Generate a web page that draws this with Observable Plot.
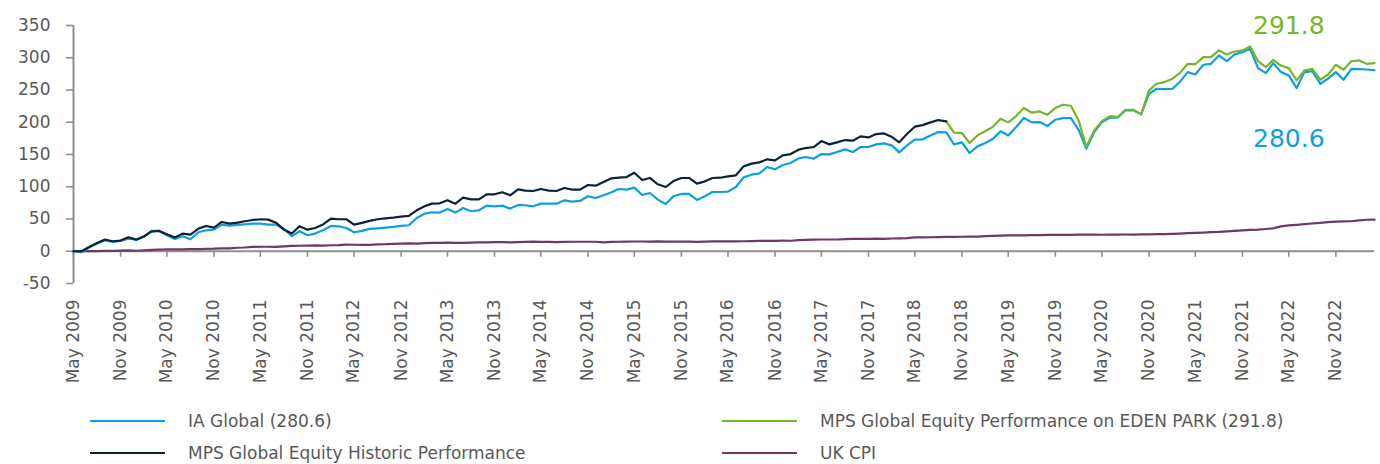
<!DOCTYPE html>
<html><head><meta charset="utf-8">
<script src="https://cdn.jsdelivr.net/npm/d3@7"></script>
<script src="https://cdn.jsdelivr.net/npm/@observablehq/plot@0.6"></script>
<style>
body{margin:0;background:#fff;font-family:"DejaVu Sans",sans-serif;}
#chart svg{display:block;}
#legend{position:relative;height:64px;width:1380px;}
.item{position:absolute;display:flex;align-items:center;height:20px;font-size:17px;color:#595959;white-space:nowrap;}
.sw{width:75px;height:0;border-top:2.5px solid;margin-right:23px;}
</style></head><body>
<div id="chart"></div>
<div id="legend"></div>
<script>
const firstMonth = "May 2009";
const tickLabels = ["May 2009","Nov 2009","May 2010","Nov 2010","May 2011","Nov 2011","May 2012","Nov 2012",
  "May 2013","Nov 2013","May 2014","Nov 2014","May 2015","Nov 2015","May 2016","Nov 2016","May 2017","Nov 2017",
  "May 2018","Nov 2018","May 2019","Nov 2019","May 2020","Nov 2020","May 2021","Nov 2021","May 2022","Nov 2022"];
const yTicks = [-50, 0, 50, 100, 150, 200, 250, 300, 350];

const seriesNames = ["IA Global (280.6)", "MPS Global Equity Historic Performance",
  "MPS Global Equity Performance on EDEN PARK (291.8)", "UK CPI"];
const seriesColors = ["#0aa0e2", "#0d2236", "#78b42c", "#6b3a67"];

// month index 0 = May 2009
const iaGlobal = [0,-1.5,5.7,11.9,17,14.5,16,19.6,18,22.7,31.5,31.5,24.8,19,23.2,18.6,29.4,32.5,33.6,41.3,
  39.8,40.8,41.8,42.9,42.9,41.3,41.3,34.6,23.2,31,24.8,27.4,32.5,39.2,38.7,36.1,29.4,31.5,34.6,35.6,
  36.6,37.7,39.2,40.3,51.6,58.3,60.4,59.9,65.6,59.9,67.1,62,63.5,70.7,69.7,70.7,66.1,71.8,71.3,69.7,
  73.8,73.8,73.8,79,77,78,85.2,82.6,86.7,91.4,96.5,95.5,98.6,87.2,90.3,80,73.3,85.2,88.8,88.8,
  79.5,85.2,91.9,91.9,92.4,99.6,114.6,118.7,120.8,130.6,127,133.7,136.8,144,146.1,143.5,150.7,150.2,153.8,158,
  153.8,161.6,161.6,165.7,167.3,163.7,153.3,164.2,173,173.5,179.6,184.8,184.3,165.7,168.8,152.3,162.6,167.8,174,185.9,
  179.6,192.6,206.5,199.8,200.3,194.1,203.9,206.5,206.5,187.4,159,184.8,200.3,207,207,218.4,218.4,212.2,244.2,251.9,
  251.4,251.9,262.3,277.7,274.1,289.1,290.6,303.5,294.8,305.1,308.7,313.9,283.9,276.2,291.7,277.7,272.6,253,277.7,279.2,
  259.7,267.5,277.7,265.9,282.9,282.3,281.8,280.6];

// month index 0..112
const mpsHistoric = [0,0,6.7,12.9,18,15.5,16.5,21.7,18,23.2,30.5,31.5,26.3,21.2,27.3,25.8,35.1,39.2,36.6,45.4,
  42.8,44.3,46.5,48.5,49.6,49,44.3,33.6,27.5,38.7,33.5,36.1,41.6,50.6,49.6,49.6,41.3,43.9,47,49.6,
  51.1,52.1,53.7,54.8,63.5,69.7,73.8,74.3,79,73.8,83.1,80.5,80.5,88.3,88.3,91.4,86.7,96,94,93.4,
  96.5,94,93.4,98,95.5,95.5,102.7,101.6,107.4,113,114,115,121.8,110.5,113.6,103.8,99.6,108.9,113.6,113.6,
  104.8,108.4,113.6,114,116,117.7,131.6,135.8,137.8,142.5,141,148.7,150.7,157.5,160,161.6,170.9,165.7,168.8,172.4,
  171.4,178.1,176.5,181.7,182.7,177,168.8,182.2,193.1,195.6,199.8,203.4,201.3];

// month index 112..167
const mpsEdenParkStart = 112;
const mpsEdenPark = [201.3,183.8,183.3,167.8,179.6,186.4,192.6,205.4,199.8,209.6,222,214.8,216.8,211.7,222,227.1,225.6,201.8,161.6,187.4,
  201.8,209.6,208,219.4,219.4,212.2,249.3,259.7,262.3,267.5,276.2,290.6,290,301,301,311.3,305.1,309.7,311.3,317.5,
  294.8,285.5,296.8,287.6,283.9,264.8,280.3,282.8,265.9,273.6,289.1,281.4,294.8,295.8,290.6,291.8];

const ukCpi = [0,0.2,0.1,0.3,0.5,0.6,0.9,1.4, 0.8,1.5,2.0,2.6,
  2.8,3.0,2.8,3.2,3.4,3.7,4.0,4.6, 4.6,5.4,5.8,6.8,
  7.0,7.0,6.9,7.6,8.3,8.5,8.7,9.1, 8.6,9.3,9.6,10.3,
  10.1,9.9,10.0,10.6,10.9,11.5,11.8,12.3, 11.8,12.6,13.0,13.1,
  13.3,13.1,13.0,13.5,13.7,13.8,14.0,14.3, 13.7,14.3,14.5,14.9,
  14.6,14.6,14.2,14.6,14.7,14.7,14.7,14.7, 13.9,14.4,14.7,14.9,
  15.1,15.1,14.8,15.2,14.8,14.9,14.9,15.0, 14.4,14.8,15.2,15.3,
  15.5,15.4,15.5,15.8,16.0,16.0,16.1,16.6, 16.3,17.1,17.5,17.9,
  18.2,18.2,18.2,18.8,19.3,19.2,19.3,19.7, 19.2,19.8,20.1,20.4,
  21.5,21.6,21.7,22.0,22.2,22.4,22.5,22.7, 22.8,23.3,23.7,24.2,
  24.5,24.6,24.7,25.0,25.1,25.3,25.3,25.5, 25.3,25.8,26.0,25.8,
  25.6,25.7,25.9,26.0,25.9,26.1,26.2,26.4, 26.7,27.0,27.4,28.0,
  28.5,29.0,29.5,30.0,30.8,31.5,32.3,33.0, 33.5,34.5,35.5,38.5,
  40.0,41.0,42.0,43.0,44.0,45.2,45.8,46.3, 46.5,48.0,48.8,49.0];

const endLabels = [
  {text: "291.8", month: "May 2022", value: 350, color: seriesColors[2]},
  {text: "280.6", month: "May 2022", value: 173.5, color: seriesColors[0]}
];

const parseMonth = d3.utcParse("%b %Y");
const start = parseMonth(firstMonth);
const monthAt = i => d3.utcMonth.offset(start, i);

const rows = [];
ukCpi.forEach((v, i) => rows.push({date: monthAt(i), value: v, series: seriesNames[3]}));
iaGlobal.forEach((v, i) => rows.push({date: monthAt(i), value: v, series: seriesNames[0]}));
mpsEdenPark.forEach((v, i) => rows.push({date: monthAt(mpsEdenParkStart + i), value: v, series: seriesNames[2]}));
mpsHistoric.forEach((v, i) => rows.push({date: monthAt(i), value: v, series: seriesNames[1]}));

const tickDates = tickLabels.map(parseMonth);
const lastDate = monthAt(iaGlobal.length - 1);
const axisGray = "#8e8e8e";

const chart = Plot.plot({
  width: 1380, height: 400,
  marginLeft: 73, marginRight: 6, marginTop: 25, marginBottom: 117,
  style: {fontFamily: "DejaVu Sans", fontSize: "17px", color: "#595959", background: "white", overflow: "visible"},
  x: {type: "utc", domain: [start, lastDate]},
  y: {domain: [-50, 350]},
  color: {domain: seriesNames, range: seriesColors},
  marks: [
    Plot.ruleY([0], {stroke: axisGray, strokeWidth: 2}),
    Plot.ruleX(tickDates, {x: d => d, y1: 0, y2: 0, insetBottom: -6, stroke: axisGray, strokeWidth: 1.6}),
    Plot.ruleX([start], {y1: -50, y2: 350, stroke: axisGray, strokeWidth: 2}),
    Plot.axisY({ticks: yTicks, tickSize: 7, tickPadding: 16, tickFormat: d => String(d),
      stroke: axisGray, strokeWidth: 1.6, label: null}),
    Plot.axisX({ticks: tickDates, tickFormat: d3.utcFormat("%b %Y"), tickRotate: -90,
      tickSize: 0, tickPadding: 16, label: null}),
    Plot.line(rows, {x: "date", y: "value", z: "series", stroke: "series", strokeWidth: 2.2,
      strokeLinejoin: "round", curve: "linear"}),
    Plot.text(endLabels, {x: d => parseMonth(d.month), y: "value", text: "text", fill: d => d.color,
      fontSize: 25, fontFamily: "DejaVu Sans", textAnchor: "middle"})
  ]
});
document.getElementById("chart").appendChild(chart);

const legendPos = [
  {left: 90, top: 11}, {left: 90, top: 43}, {left: 722, top: 11}, {left: 722, top: 43}
];
const legend = document.getElementById("legend");
seriesNames.forEach((name, k) => {
  const item = document.createElement("div");
  item.className = "item";
  item.style.left = legendPos[k].left + "px";
  item.style.top = legendPos[k].top + "px";
  const sw = document.createElement("span");
  sw.className = "sw";
  sw.style.borderTopColor = seriesColors[k];
  const label = document.createElement("span");
  label.textContent = name;
  item.appendChild(sw); item.appendChild(label);
  legend.appendChild(item);
});
</script>
</body></html>
